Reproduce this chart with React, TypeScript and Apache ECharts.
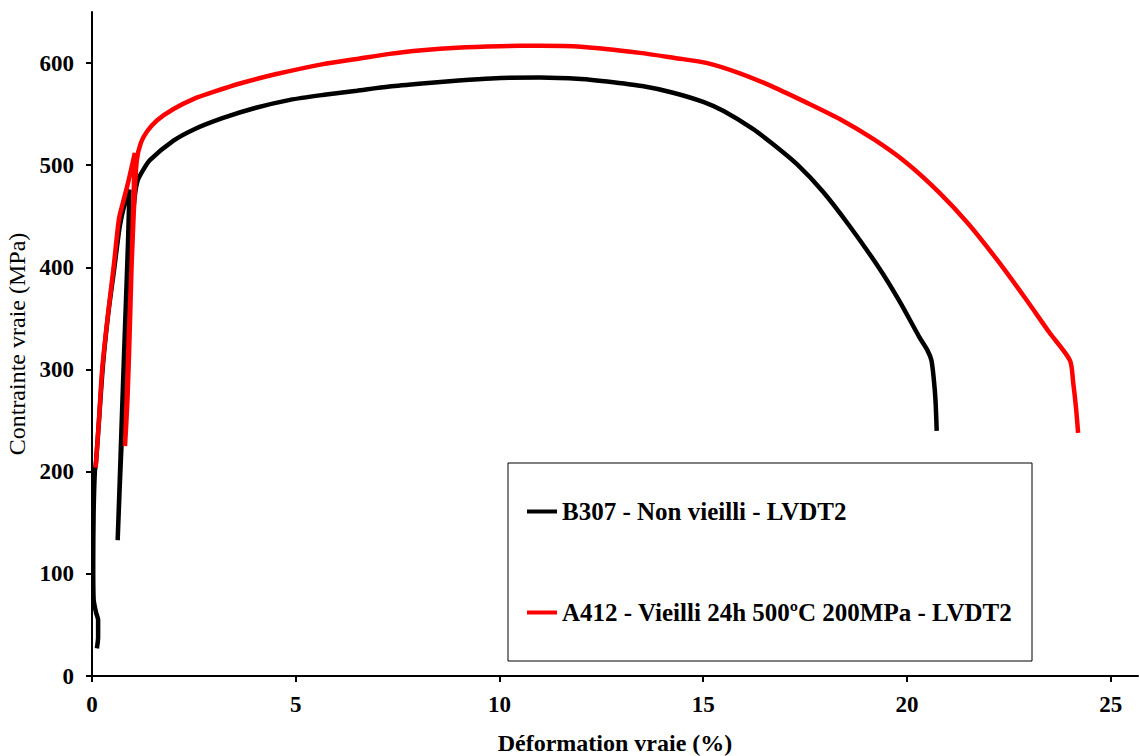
import React, { useEffect, useRef } from "react";
import * as echarts from "echarts";

const blackName = "B307 - Non vieilli - LVDT2";
const redName = "A412 - Vieilli 24h 500ºC 200MPa - LVDT2";

const blackStrain = [0.12, 0.15, 0.15, 0.1, 0.04, 0.03, 0.04, 0.07, 0.1, 0.18, 0.27, 0.4, 0.55, 0.68, 0.8, 0.92, 0.88, 0.8, 0.73, 0.68, 0.63, 0.68, 0.74, 0.82, 0.9, 0.98, 1.05, 1.12, 1.25, 1.42, 2.0, 2.5, 3.2, 4.0, 4.86, 5.7, 6.5, 7.3, 8.1, 9.0, 9.8, 11.0, 12.0, 12.64, 13.5, 14.26, 15.0, 15.5, 16.2, 16.7, 17.3, 17.94, 18.6, 19.34, 19.83, 20.3, 20.5, 20.6, 20.66, 20.7, 20.73];
const blackStress = [27, 38, 55, 62, 75, 110, 160, 200, 210, 255, 305, 355, 400, 440, 462, 476, 420, 330, 250, 190, 133, 185, 240, 310, 380, 440, 470, 485, 495, 505, 524, 535, 546, 556, 564, 569, 573, 577, 580, 583, 585, 586, 584.5, 582, 577.5, 571, 562, 553, 536, 521, 501, 474, 440, 398, 366, 332, 319, 309, 290, 270, 240];

const redStrain = [0.09, 0.17, 0.25, 0.38, 0.53, 0.66, 0.75, 0.88, 1.0, 1.05, 1.02, 0.97, 0.92, 0.87, 0.81, 0.85, 0.9, 0.96, 1.0, 1.05, 1.1, 1.2, 1.35, 1.6, 2.0, 2.5, 3.0, 3.63, 4.5, 5.67, 6.5, 7.3, 8.1, 8.95, 10.0, 11.0, 12.0, 13.45, 14.3, 15.1, 15.9, 16.7, 17.5, 18.36, 19.2, 20.0, 20.8, 21.5, 22.2, 22.9, 23.5, 24.0, 24.08, 24.15, 24.2];
const redStress = [204, 250, 300, 350, 400, 447, 462, 482, 503, 512, 470, 400, 330, 270, 225, 270, 330, 390, 430, 475, 505, 522, 533, 544, 555, 565, 572, 580, 589, 599, 604, 609, 612.5, 615, 616.5, 617, 616, 610, 605, 600, 590, 577, 562, 545, 525, 502, 473, 443, 408, 370, 336, 309, 287, 262, 238];

const xTicks = [0, 5, 10, 15, 20, 25];
const yTicks = [0, 100, 200, 300, 400, 500, 600];
const xAxisTitle = "Déformation vraie (%)";
const yAxisTitle = "Contrainte vraie (MPa)";

const FONT = "'Liberation Serif', 'Times New Roman', serif";

export default function App() {
  const ref = useRef<HTMLDivElement>(null);
  useEffect(() => {
    if (!ref.current) return;
    const chart = echarts.init(ref.current, null, { renderer: "svg" });
    const zip = (xs: number[], ys: number[]) => xs.map((x, i) => [x, ys[i]]);
    chart.setOption({
      animation: false,
      backgroundColor: "#ffffff",
      grid: { left: 92, top: 12, right: 2, bottom: 80, outerBoundsMode: "none", containLabel: false },
      xAxis: {
        type: "value",
        min: 0,
        max: 25.67,
        interval: 5,
        name: xAxisTitle,
        nameLocation: "middle",
        nameGap: 55,
        nameTextStyle: { fontFamily: FONT, fontWeight: "bold", fontSize: 24, color: "#000" },
        axisLine: { show: true, onZero: false, lineStyle: { color: "#000", width: 2 } },
        axisTick: { show: true, length: 6, customValues: xTicks, lineStyle: { color: "#000", width: 2 } },
        axisLabel: { customValues: xTicks, margin: 17, fontFamily: FONT, fontWeight: "bold", fontSize: 23, color: "#000" },
        splitLine: { show: false },
      },
      yAxis: {
        type: "value",
        min: 0,
        max: 650,
        interval: 100,
        name: yAxisTitle,
        nameLocation: "middle",
        nameGap: 60,
        nameRotate: 90,
        nameTextStyle: { fontFamily: FONT, fontSize: 24, color: "#000" },
        axisLine: { show: true, lineStyle: { color: "#000", width: 2 } },
        axisTick: { show: true, length: 6, customValues: yTicks, lineStyle: { color: "#000", width: 2 } },
        axisLabel: { customValues: yTicks, margin: 18, fontFamily: FONT, fontWeight: "bold", fontSize: 23, color: "#000" },
        splitLine: { show: false },
      },
      legend: {
        orient: "vertical",
        left: 522,
        top: 494,
        itemGap: 76,
        itemWidth: 30,
        itemHeight: 4,
        icon: "rect",
        textStyle: { fontFamily: FONT, fontWeight: "bold", fontSize: 25, color: "#000" },
        data: [blackName, redName],
        z: 10,
      },
      graphic: [
        {
          type: "rect",
          shape: { x: 508, y: 463, width: 524, height: 198 },
          style: { fill: "#fff", stroke: "#000", lineWidth: 1 },
          z: 5,
        },
      ],
      series: [
        {
          name: blackName,
          type: "line",
          data: zip(blackStrain, blackStress),
          showSymbol: false,
          smooth: 0.25,
          color: "#000000",
          lineStyle: { color: "#000000", width: 4.5 },
        },
        {
          name: redName,
          type: "line",
          data: zip(redStrain, redStress),
          showSymbol: false,
          smooth: 0.25,
          color: "#ff0000",
          lineStyle: { color: "#ff0000", width: 4.5 },
        },
      ],
    });
    return () => chart.dispose();
  }, []);
  return <div ref={ref} style={{ position: "fixed", left: 0, top: 0, width: 1140, height: 756, background: "#fff" }} />;
}
